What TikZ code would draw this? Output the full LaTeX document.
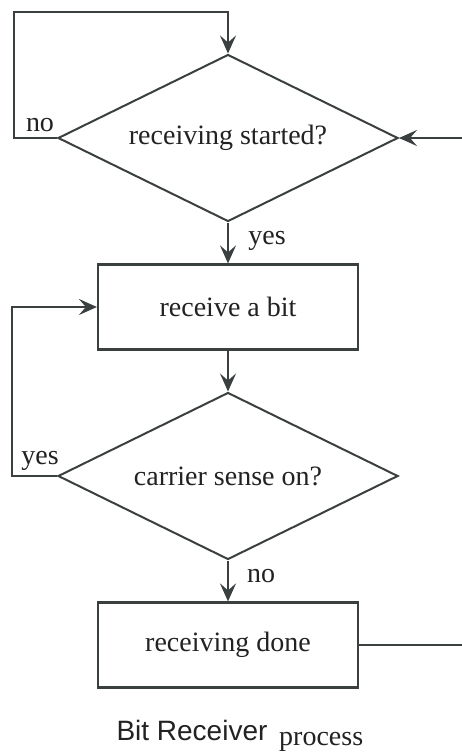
\documentclass[tikz,border=0pt]{standalone}
\usepackage{fontspec}
\setmainfont{Liberation Serif}
\newfontfamily\capsans{Liberation Sans}
\usetikzlibrary{shapes.geometric,arrows.meta}
\definecolor{ink}{HTML}{3A3F3F}
\definecolor{txt}{HTML}{222222}
\begin{document}
\begin{tikzpicture}[x=1pt,y=1pt,
  every node/.style={font=\fontsize{28}{32}\selectfont, text=txt},
  decision/.style={draw=ink, line width=2pt, diamond, shape aspect=2.04, inner sep=0pt,
     minimum width=340pt, minimum height=167pt},
  action/.style={draw=ink, line width=2.2pt, rectangle, inner sep=0pt,
     minimum width=260pt, minimum height=85pt},
  arr/.style={draw=ink, line width=2.2pt, -{Stealth[length=18pt,width=16pt,inset=7pt]}},
  lbl/.style={inner sep=0pt}]
\useasboundingbox[fill=white] (0,0) rectangle (462,-753);
\node[decision] (d1) at (228,-138) {receiving started?};
\node[action] (b1) at (228,-307) {receive a bit};
\node[decision] (d2) at (228,-476) {carrier sense on?};
\node[action] (b2) at (228,-645) {receiving done};
\coordinate (tl) at (14,-12);
\coordinate (ml) at (12,-307);
\coordinate (rc) at (475,-400);
\draw[arr] (d1.west) -| (tl) -| (d1.north);
\draw[arr] (d1.south) -- (b1.north);
\draw[arr] (b1.south) -- (d2.north);
\draw[arr] (d2.west) -| (ml) -- (b1.west);
\draw[arr] (d2.south) -- (b2.north);
\draw[arr] (b2.east) -| (rc) |- (d1.east);
\node[lbl] (no1) at (40,-125) {no};
\node[lbl] (yes1) at (267,-241) {yes};
\node[lbl] (yes2) at (40,-461) {yes};
\node[lbl] (no2) at (261,-576) {no};
\node[anchor=base, inner sep=0pt] (cap1) at (192,-740) {\capsans Bit Receiver};
\node[anchor=base west, inner sep=0pt] (cap2) at (279,-745) {process};
\end{tikzpicture}
\end{document}
